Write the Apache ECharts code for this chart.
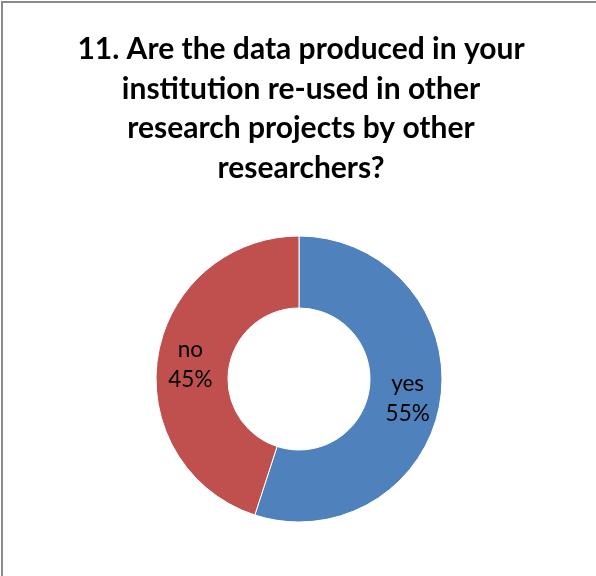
<!DOCTYPE html>
<html>
<head>
<meta charset="utf-8">
<script src="https://cdn.jsdelivr.net/npm/echarts@6/dist/echarts.min.js"></script>
<style>
  html, body { margin: 0; padding: 0; background: #fff; overflow: hidden; }
  #frame { position: absolute; left: 1px; top: 1px; width: 640px; height: 640px; border: 2px solid #8a8a8a; box-sizing: border-box; }
  #chart { position: absolute; left: 0; top: 0; width: 596px; height: 576px; }
</style>
</head>
<body>
<div id="frame"></div>
<div id="chart"></div>
<script>
// Survey question 11 answers
const titleText = '11. Are the data produced in your\ninstitution re-used in other\nresearch projects by other\nresearchers?';
const answers = ['yes', 'no'];
const shares = [55, 45];
const colors = ['#4F81BD', '#C0504D'];

const chart = echarts.init(document.getElementById('chart'), null, { renderer: 'canvas' });
chart.setOption({
  animation: false,
  backgroundColor: 'transparent',
  title: {
    text: titleText,
    left: 296,
    top: 25,
    textAlign: 'center',
    textStyle: {
      fontFamily: 'Lato',
      fontWeight: 'bold',
      fontSize: 30,
      lineHeight: 39.5,
      color: '#000'
    }
  },
  series: [{
    type: 'pie',
    center: [299, 379],
    radius: [71, 143],
    startAngle: 90,
    clockwise: true,
    avoidLabelOverlap: false,
    itemStyle: { borderColor: '#fff', borderWidth: 1 },
    label: {
      show: true,
      position: 'inside',
      formatter: p => p.name + '\n' + p.value + '%',
      fontFamily: 'Lato',
      fontSize: 22.5,
      lineHeight: 30,
      offset: [0, 3],
      color: '#000'
    },
    labelLine: { show: false },
    emphasis: { disabled: true },
    data: answers.map((a, i) => ({ name: a, value: shares[i], itemStyle: { color: colors[i] } }))
  }]
});
</script>
</body>
</html>
